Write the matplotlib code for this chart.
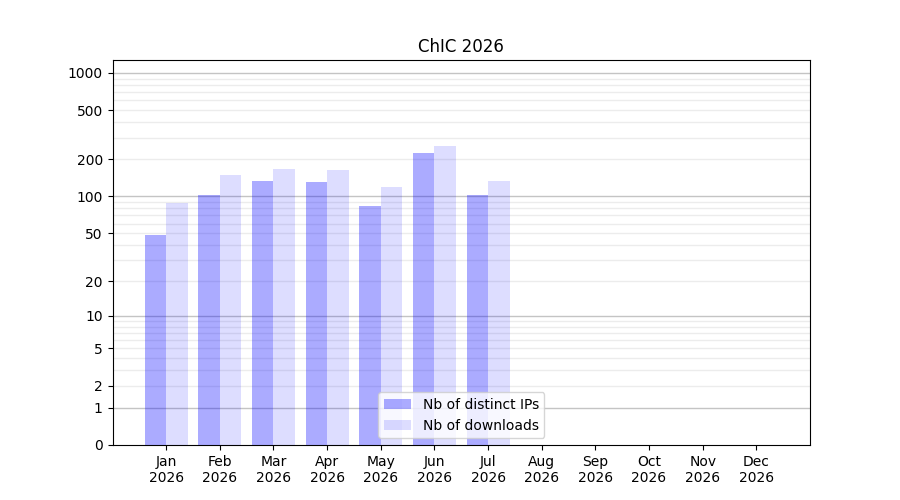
import numpy as np
import matplotlib
matplotlib.use("Agg")
import matplotlib.pyplot as plt

months = ["Jan", "Feb", "Mar", "Apr", "May", "Jun", "Jul", "Aug", "Sep", "Oct", "Nov", "Dec"]
year = "2026"
ips = [48, 103, 134, 131, 84, 225, 103]
downloads = [89, 149, 167, 164, 119, 257, 134]
ytick_vals = [0, 1, 2, 5, 10, 20, 50, 100, 200, 500, 1000]

fig, ax = plt.subplots(figsize=(9, 5), dpi=100)

fwd = lambda v: np.log10(1 + np.clip(v, 0, None))
inv = lambda v: 10 ** v - 1
ax.set_yscale("function", functions=(fwd, inv))

x = np.arange(1, len(months) + 1)
w = 0.4
ax.bar(x[:len(ips)] - w / 2, ips, width=w, color="blue", alpha=0.33, label="Nb of distinct IPs", zorder=3)
ax.bar(x[:len(downloads)] + w / 2, downloads, width=w, color="blue", alpha=0.135, label="Nb of downloads", zorder=3)

# grid lines
for dec in [1, 10, 100, 1000]:
    ax.axhline(dec, color="#c4c4c4", lw=1, zorder=1)
    for m in range(2, 10):
        if dec * m < 1300:
            ax.axhline(dec * m, color="#ececec", lw=1, zorder=1)

ax.set_ylim(0, 1270)
ax.set_xlim(0, 13)
ax.set_yticks(ytick_vals)
ax.set_yticklabels([str(v) for v in ytick_vals])
ax.minorticks_off()
ax.set_xticks(x)
ax.set_xticklabels([f"{m}\n{year}" for m in months])
ax.set_title("ChIC 2026")
ax.legend(loc="lower center")

fig.savefig("out.png", dpi=100)
